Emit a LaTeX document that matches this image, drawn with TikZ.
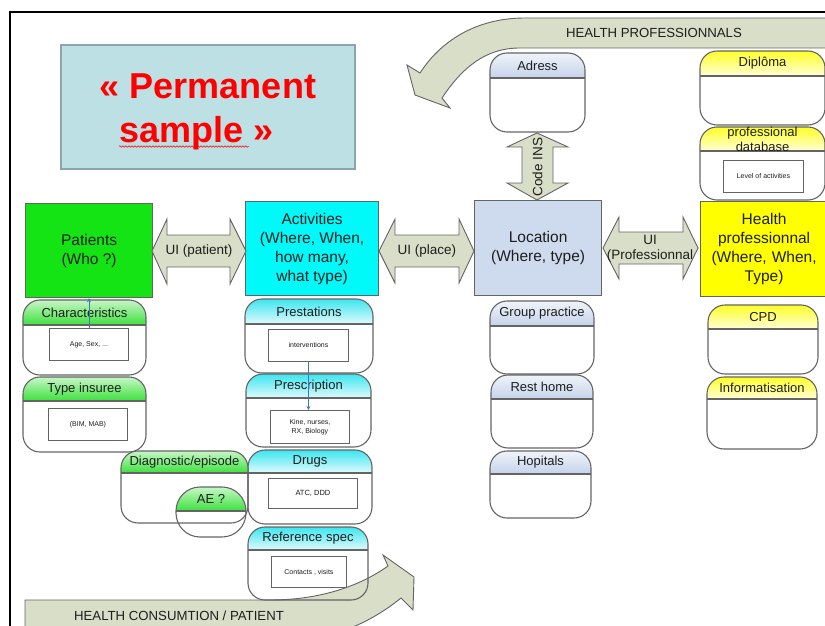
\documentclass[tikz,border=0pt]{standalone}
\usepackage{fontspec}
\setmainfont{Liberation Sans}
\usetikzlibrary{arrows.meta,decorations.pathmorphing}
\definecolor{permfill}{RGB}{188,224,228}
\definecolor{permline}{RGB}{140,165,168}
\definecolor{patgreen}{RGB}{20,228,20}
\definecolor{actcyan}{RGB}{0,250,250}
\definecolor{locblue}{RGB}{206,218,237}
\definecolor{hpyellow}{RGB}{255,255,0}
\definecolor{arrowfill}{RGB}{216,222,200}
\definecolor{lineg}{RGB}{100,100,100}
\definecolor{txt}{RGB}{30,30,30}
\definecolor{linkblue}{RGB}{70,114,196}
\definecolor{gtop}{RGB}{200,246,200}
\definecolor{gbot}{RGB}{60,225,60}
\definecolor{ctop}{RGB}{60,230,240}
\definecolor{cbot}{RGB}{225,250,252}
\definecolor{ytop}{RGB}{255,255,40}
\definecolor{ybot}{RGB}{255,255,215}
\definecolor{btop}{RGB}{240,244,250}
\definecolor{bbot}{RGB}{196,210,234}
\tikzset{
  boxline/.style={draw=lineg, line width=1.1pt},
  mainbox/.style={draw=lineg, line width=1.2pt, anchor=north west, inner sep=0pt,
    align=center, font=\fontsize{15.5}{19}\selectfont, text=txt},
  hdrtext/.style={font=\fontsize{13}{15}\selectfont, text=txt, inner sep=0pt, align=center},
  smallbox/.style={draw=lineg, line width=0.9pt, fill=white, anchor=north west,
    inner sep=0pt, align=center, font=\fontsize{7}{8.5}\selectfont, text=txt},
  bigarrow/.style={fill=arrowfill, draw=lineg, line width=0.9pt, line join=miter},
  arrowtext/.style={font=\fontsize{13.5}{15.5}\selectfont, text=txt, inner sep=0pt, align=center},
  bandtext/.style={font=\fontsize{13.2}{15}\selectfont, text=txt, inner sep=0pt},
  permtext/.style={font=\fontsize{36}{43}\bfseries\selectfont, text=red, inner sep=0pt, anchor=base},
  squiggle/.style={draw=red, line width=0.5pt, decorate,
    decoration={snake, amplitude=0.8pt, segment length=3pt}},
  linkarrow/.style={draw=linkblue, line width=0.8pt, -{Stealth[length=4pt,width=4pt]}},
  greensh/.style={top color=gtop, bottom color=gbot},
  cyansh/.style={top color=ctop, bottom color=cbot},
  yellowsh/.style={top color=ytop, bottom color=ybot},
  bluesh/.style={top color=btop, bottom color=bbot},
}
% #1 name, #2 x1, #3 y1, #4 x2, #5 y2, #6 divider y, #7 shading, #8 radius, #9 label
\newcommand{\hdrbox}[9]{%
  \begin{scope}
    \clip[rounded corners=#8] (#2,#3) rectangle (#4,#5);
    \shade[#7] (#2,#3) rectangle (#4,#6);
  \end{scope}
  \draw[boxline, rounded corners=#8] (#2,#3) rectangle (#4,#5);
  \draw[boxline] (#2,#6) -- (#4,#6);
  \node[hdrtext] (#1) at ({(#2+#4)/2},{(#3+#6)/2}) {#9};
}
\begin{document}
\begin{tikzpicture}[x=1pt,y=-1pt]
\useasboundingbox (0,0) rectangle (825,626);
\clip (0,0) rectangle (825,626);
\fill[white] (0,0) rectangle (825,626);

% frame
\draw[black, line width=1.5pt] (10,630) -- (10,12) -- (830,12);

% Permanent sample
\node[draw=permline, line width=2.2pt, fill=permfill, minimum width=294, minimum height=124,
  anchor=north west, inner sep=0pt] (perm) at (60,44) {};
\node[permtext] (perm1) at (208,99) {« Permanent};
\node[permtext] (perm2) at (197,142) {sample »};
\coordinate (sqa) at (119,146.5);
\coordinate (sqb) at (249,146.5);
\draw[squiggle] (sqa) -- (sqb);

% top curved arrow
\draw[bigarrow] (832,18) -- (525,18) .. controls (475,18) and (440,42) .. (420,73)
  -- (407,65) -- (415,95) -- (450,108) -- (442,98)
  .. controls (462,68) and (485,48) .. (520,48) -- (832,48);
\node[bandtext] (hproflabel) at (654,33) {HEALTH PROFESSIONNALS};

% bottom curved arrow
\draw[bigarrow] (25,632) -- (25,600) -- (270,600) .. controls (320,600) and (360,586) .. (388,566)
  -- (383,555) -- (414,577) -- (413,610) -- (401,598)
  .. controls (380,615) and (360,625) .. (340,632);
\node[bandtext] (hconslabel) at (179,616) {HEALTH CONSUMTION / PATIENT};

% main boxes
\node[mainbox, fill=patgreen, minimum width=127, minimum height=94] (patients) at (25,203) {Patients\\(Who ?)};
\node[mainbox, fill=actcyan, minimum width=133, minimum height=94] (activities) at (245,201)
  {Activities\\(Where, When,\\how many,\\what type)};
\node[mainbox, fill=locblue, minimum width=127, minimum height=95] (location) at (474,200)
  {Location\\(Where, type)};
\node[mainbox, fill=hpyellow, minimum width=135, minimum height=95, text width=125] (healthprof) at (700,201)
  {\hspace*{-8pt}Health\\\hspace*{-8pt}professionnal\\\hspace*{-8pt}(Where, When,\\\hspace*{-8pt}Type)};

% double arrows
\draw[bigarrow] (152,251) -- (167,219) -- (167,235) -- (230,235) -- (230,219) -- (246,251)
  -- (230,284) -- (230,267) -- (167,267) -- (167,284) -- cycle;
\node[arrowtext] (uipatient) at (199,251) {UI (patient)};
\draw[bigarrow] (379,251) -- (395,219) -- (395,235) -- (459,235) -- (459,219) -- (474,251)
  -- (459,283) -- (459,267) -- (395,267) -- (395,283) -- cycle;
\node[arrowtext] (uiplace) at (427,251) {UI (place)};
\draw[bigarrow] (603,248) -- (619,217) -- (619,232) -- (683,232) -- (683,217) -- (698,248)
  -- (683,279) -- (683,264) -- (619,264) -- (619,279) -- cycle;
\node[arrowtext] (uiprof) at (650,249) {UI\\(Professionnal};
\draw[bigarrow] (537,133) -- (568,147) -- (553,147) -- (553,183) -- (568,183) -- (537,200)
  -- (507,183) -- (522,183) -- (522,147) -- (507,147) -- cycle;
\node[arrowtext, rotate=90] (codeins) at (537.5,167) {Code INS};

% containers
\hdrbox{adress}{490}{53}{585}{132}{78}{bluesh}{17}{Adress}
\hdrbox{diploma}{700}{51}{825}{125}{76}{yellowsh}{17}{Diplôma}
\hdrbox{profdb}{700}{127}{825}{200}{151}{yellowsh}{17}{professional\\database}
\hdrbox{grouppr}{490}{301}{594}{374}{326}{bluesh}{17}{Group practice}
\hdrbox{resthome}{491}{375}{593}{448}{399}{bluesh}{17}{Rest home}
\hdrbox{hopitals}{490}{451}{591}{518}{474}{bluesh}{17}{Hopitals}
\hdrbox{cpd}{708}{305}{818}{374}{329}{yellowsh}{17}{CPD}
\hdrbox{informat}{707}{377}{817}{449}{399}{yellowsh}{17}{Informatisation}
\hdrbox{charac}{23}{300}{146}{375}{325}{greensh}{17}{Characteristics}
\hdrbox{typeins}{23}{377}{146}{452}{401}{greensh}{17}{Type insuree}
\hdrbox{prestat}{245}{299}{373}{373}{324}{cyansh}{17}{Prestations}
\hdrbox{prescr}{246}{374}{371}{447}{398}{cyansh}{17}{Prescription}
\hdrbox{drugs}{248}{450}{372}{524}{473}{cyansh}{17}{Drugs}
\hdrbox{refspec}{248}{527}{368}{600}{550}{cyansh}{17}{Reference spec}
\hdrbox{diagn}{121}{451}{248}{523}{473}{greensh}{17}{Diagnostic/episode}
\hdrbox{ae}{176}{487}{246}{537}{511}{greensh}{24}{AE ?}

% inner boxes
\node[smallbox, minimum width=79, minimum height=32] (age) at (49,328) {Age, Sex, ...};
\node[smallbox, minimum width=79, minimum height=32] (bim) at (48,408) {(BIM, MAB)};
\node[smallbox, minimum width=80, minimum height=32] (interv) at (268,329) {interventions};
\node[smallbox, minimum width=79, minimum height=33] (kine) at (270,410) {Kine, nurses,\\RX, Biology};
\node[smallbox, minimum width=89, minimum height=30, font=\fontsize{7.5}{9}\selectfont] (atc) at (268,478) {ATC, DDD};
\node[smallbox, minimum width=75, minimum height=31] (contacts) at (271,556) {Contacts , visits};
\node[smallbox, minimum width=80, minimum height=32] (levelact) at (723,160) {Level of activities};

% blue links
\draw[linkarrow] (age.north) -- (patients.south -| age.north);
\draw[linkarrow] (interv.south) -- (interv.south |- kine.north);
\end{tikzpicture}
\end{document}
